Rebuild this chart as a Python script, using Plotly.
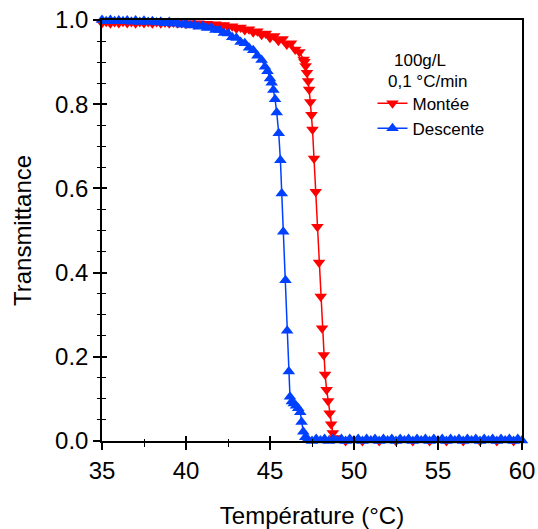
import plotly.graph_objects as go

# ---------------- data ----------------
temp_montee = [
    35.0, 35.25, 35.5, 35.75, 36.0, 36.25, 36.5, 36.75, 37.0, 37.25, 37.5, 37.75,
    38.0, 38.25, 38.5, 38.75, 39.0, 39.25, 39.5, 39.75, 40.0, 40.25, 40.5, 40.75,
    41.0, 41.25, 41.5, 41.75, 42.0, 42.25, 42.5, 42.75, 43.0, 43.25, 43.5, 43.75,
    44.0, 44.25, 44.5, 44.75, 45.0, 45.25, 45.5, 45.75, 46.0, 46.25, 46.5, 46.75,
    47.0, 47.05, 47.12, 47.2, 47.27, 47.33, 47.4, 47.47, 47.53, 47.62, 47.72, 47.82,
    47.92, 48.02, 48.1, 48.2, 48.28, 48.37, 48.46, 48.55, 48.64, 48.74, 48.85, 48.97,
    49.25, 49.5, 49.75, 50.0, 50.25, 50.5, 50.75, 51.0, 51.25, 51.5, 51.75, 52.0,
    52.25, 52.5, 52.75, 53.0, 53.25, 53.5, 53.75, 54.0, 54.25, 54.5, 54.75, 55.0,
    55.25, 55.5, 55.75, 56.0, 56.25, 56.5, 56.75, 57.0, 57.25, 57.5, 57.75, 58.0,
    58.25, 58.5, 58.75, 59.0, 59.25, 59.5, 59.75, 60.0,
]
trans_montee = [
    0.993, 0.996, 0.992, 0.995, 0.993, 0.996, 0.993, 0.995, 0.992, 0.995, 0.993, 0.995,
    0.992, 0.995, 0.992, 0.994, 0.992, 0.994, 0.992, 0.993, 0.991, 0.993, 0.990, 0.992,
    0.990, 0.991, 0.989, 0.990, 0.987, 0.988, 0.984, 0.985, 0.980, 0.982, 0.976, 0.978,
    0.971, 0.973, 0.965, 0.968, 0.958, 0.962, 0.951, 0.955, 0.942, 0.945, 0.930, 0.924,
    0.906, 0.901, 0.891, 0.875, 0.855, 0.835, 0.805, 0.775, 0.740, 0.671, 0.592, 0.509,
    0.424, 0.343, 0.268, 0.204, 0.158, 0.122, 0.095, 0.066, 0.040, 0.019, 0.007, -0.001,
    -0.004, 0.000, -0.004, -0.001, -0.004, 0.000, -0.004, -0.001, -0.004, 0.000, -0.004, -0.001,
    -0.004, 0.000, -0.004, -0.001, -0.004, 0.000, -0.004, -0.001, -0.004, 0.000, -0.004, -0.001,
    -0.004, 0.000, -0.004, -0.001, -0.004, 0.000, -0.004, -0.001, -0.004, 0.000, -0.004, -0.001,
    -0.004, 0.000, -0.004, -0.001, -0.004, 0.000, -0.004, -0.001,
]

temp_descente = [
    35.0, 35.25, 35.5, 35.75, 36.0, 36.25, 36.5, 36.75, 37.0, 37.25, 37.5, 37.75,
    38.0, 38.25, 38.5, 38.75, 39.0, 39.25, 39.5, 39.75, 40.0, 40.25, 40.5, 40.75,
    41.0, 41.25, 41.5, 41.75, 42.0, 42.25, 42.5, 42.75, 43.0, 43.25, 43.5, 43.75,
    44.0, 44.25, 44.5, 44.7, 44.85, 45.0, 45.1, 45.2, 45.3, 45.4, 45.52, 45.62,
    45.7, 45.79, 45.92, 46.02, 46.12, 46.19, 46.3, 46.42, 46.55, 46.68, 46.8, 46.88,
    46.98, 47.1, 47.25, 47.5, 47.75, 48.0, 48.25, 48.5, 48.75, 49.0, 49.25, 49.5,
    49.75, 50.0, 50.25, 50.5, 50.75, 51.0, 51.25, 51.5, 51.75, 52.0, 52.25, 52.5,
    52.75, 53.0, 53.25, 53.5, 53.75, 54.0, 54.25, 54.5, 54.75, 55.0, 55.25, 55.5,
    55.75, 56.0, 56.25, 56.5, 56.75, 57.0, 57.25, 57.5, 57.75, 58.0, 58.25, 58.5,
    58.75, 59.0, 59.25, 59.5, 59.75, 60.0,
]
trans_descente = [
    1.000, 0.997, 1.000, 0.997, 0.999, 0.997, 0.999, 0.996, 0.999, 0.995, 0.998, 0.995,
    0.997, 0.994, 0.996, 0.992, 0.995, 0.991, 0.993, 0.989, 0.991, 0.987, 0.988, 0.984,
    0.986, 0.981, 0.982, 0.976, 0.976, 0.969, 0.968, 0.959, 0.957, 0.948, 0.945, 0.934,
    0.928, 0.915, 0.905, 0.889, 0.878, 0.861, 0.851, 0.834, 0.812, 0.780, 0.731, 0.667,
    0.588, 0.497, 0.382, 0.262, 0.165, 0.105, 0.094, 0.089, 0.084, 0.078, 0.068, 0.045,
    0.022, 0.009, 0.004, 0.000, 0.005, 0.001, 0.005, 0.000, 0.005, 0.001, 0.005, 0.000,
    0.005, 0.001, 0.005, 0.000, 0.005, 0.001, 0.005, 0.000, 0.005, 0.001, 0.005, 0.000,
    0.005, 0.001, 0.005, 0.000, 0.005, 0.001, 0.005, 0.000, 0.005, 0.001, 0.005, 0.000,
    0.005, 0.001, 0.005, 0.000, 0.005, 0.001, 0.005, 0.000, 0.005, 0.001, 0.005, 0.000,
    0.005, 0.001, 0.005, 0.000, 0.005, 0.001,
]

x_range = [35, 60]
y_range = [0.0, 1.0]
x_title = "Température (°C)"
y_title = "Transmittance"
legend_header = ["100g/L", "0,1 °C/min"]
series_names = ["Montée", "Descente"]

# ---------------- styling ----------------
FONT = "Liberation Sans, Arial, sans-serif"
RED = "#FF0000"
BLUE = "#0040FF"

fig = go.Figure()
fig.add_trace(go.Scatter(
    x=temp_montee, y=trans_montee, name=series_names[0], mode="lines+markers",
    line=dict(color=RED, width=1.5),
    marker=dict(symbol="triangle-down", size=11, color=RED, line=dict(width=0)),
    cliponaxis=False,
))
fig.add_trace(go.Scatter(
    x=temp_descente, y=trans_descente, name=series_names[1], mode="lines+markers",
    line=dict(color=BLUE, width=1.5),
    marker=dict(symbol="triangle-up", size=11, color=BLUE, line=dict(width=0)),
    cliponaxis=False,
))

axis_common = dict(showgrid=False, zeroline=False, automargin=False,
                   ticklabeloverflow="allow")

fig.update_layout(
    width=538, height=529,
    margin=dict(l=102, r=16, t=20, b=88),
    paper_bgcolor="white", plot_bgcolor="white",
    font=dict(family=FONT, size=24, color="black"),
    showlegend=True,
    legend=dict(
        x=0.644, y=0.844, xanchor="left", yanchor="top",
        bgcolor="rgba(0,0,0,0)", borderwidth=0,
        font=dict(family=FONT, size=17, color="black"),
        itemwidth=30, tracegroupgap=0,
    ),
    xaxis=dict(
        **axis_common, range=x_range, showline=True, linecolor="black", linewidth=1.5,
        mirror=True, ticks="outside", ticklen=7, tickwidth=1.5, tickcolor="black",
        dtick=5, tick0=35, tickformat="d",
        minor=dict(ticks="outside", ticklen=4, tickwidth=1.2, tickcolor="black", dtick=2.5),
        ticklabelstandoff=0,
        title=dict(text=x_title, standoff=28, font=dict(size=24)),
        tickfont=dict(size=24),
    ),
    yaxis=dict(
        **axis_common, range=y_range, showline=True, linecolor="black", linewidth=1.5,
        mirror=True, ticks="outside", ticklen=7, tickwidth=1.5, tickcolor="black",
        dtick=0.2, tick0=0, tickformat=".1f",
        minor=dict(ticks="outside", ticklen=3, tickwidth=1.2, tickcolor="black", dtick=0.05),
        ticklabelstandoff=0,
        title=dict(text=y_title, standoff=17, font=dict(size=24)),
        tickfont=dict(size=24),
    ),
    xaxis2=dict(
        **axis_common, range=x_range, overlaying="x", anchor="y", side="bottom",
        showline=False, showticklabels=False, ticks="inside", ticklen=5, tickwidth=1.5,
        tickcolor="black", dtick=5, tick0=35,
        minor=dict(ticks="inside", ticklen=2, tickwidth=1.2, tickcolor="black", dtick=2.5),
    ),
    yaxis2=dict(
        **axis_common, range=y_range, overlaying="y", anchor="x", side="left",
        showline=False, showticklabels=False, ticks="inside", ticklen=5, tickwidth=1.5,
        tickcolor="black", dtick=0.2, tick0=0,
        minor=dict(ticks="inside", ticklen=4, tickwidth=1.2, tickcolor="black", dtick=0.05),
    ),
    annotations=[
        dict(text=legend_header[0], x=0.756, y=0.903, xref="paper", yref="paper",
             showarrow=False, xanchor="center", yanchor="middle",
             font=dict(family=FONT, size=17, color="black")),
        dict(text=legend_header[1], x=0.775, y=0.853, xref="paper", yref="paper",
             showarrow=False, xanchor="center", yanchor="middle",
             font=dict(family=FONT, size=17, color="black")),
    ],
)

# empty helper traces so the overlay axes (inner half of the crossing ticks) are drawn
fig.add_trace(go.Scatter(x=[], y=[], xaxis="x2", yaxis="y", showlegend=False, hoverinfo="skip"))
fig.add_trace(go.Scatter(x=[], y=[], xaxis="x", yaxis="y2", showlegend=False, hoverinfo="skip"))

# remove the browser's default 8 px page margin so the figure fills the window exactly
fig.write_html(
    "out.html",
    config={"displayModeBar": False},
    post_script="document.body.style.margin='0';document.body.style.overflow='hidden';",
)
